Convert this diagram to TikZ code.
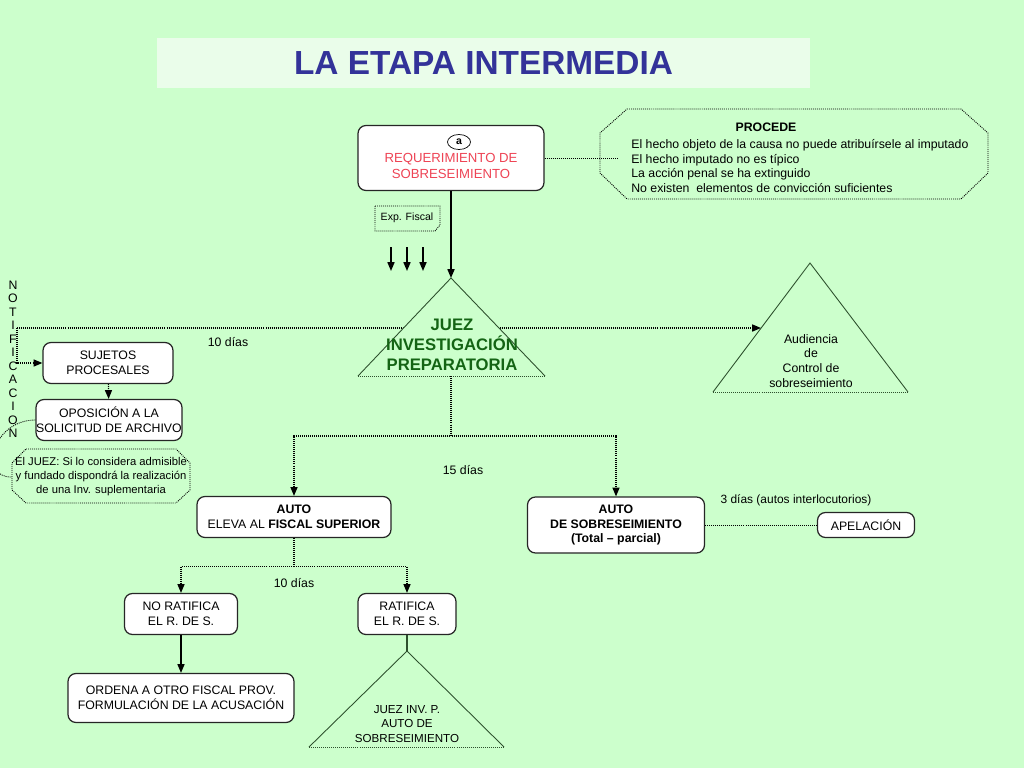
\documentclass[tikz,border=0pt]{standalone}
\usepackage{fontspec}
\setmainfont{Liberation Sans}
\usepackage{tikz}
\usetikzlibrary{arrows.meta,shapes.geometric}

\definecolor{bggreen}{RGB}{204,255,204}
\definecolor{titlebg}{RGB}{234,253,234}
\definecolor{titleblue}{RGB}{51,51,153}
\definecolor{reqred}{RGB}{238,68,85}
\definecolor{juezgreen}{RGB}{20,100,20}
\definecolor{triline}{RGB}{45,80,45}

\begin{document}
\begin{tikzpicture}[
    x=0.02cm, y=-0.02cm,
    >={Triangle[length=5pt,width=4pt]},
    box/.style={draw=black!85, line width=0.7pt, rounded corners=4.5pt, fill=white, align=center, inner sep=0pt},
    dotline/.style={dash pattern=on 0.55pt off 0.6pt, line width=0.7pt},
    tri/.style={draw=triline, line width=0.5pt, fill=bggreen},
    every node/.style={font=\fontsize{7}{8.5}\selectfont}
  ]
  \fill[bggreen] (0,0) rectangle (1024,768);
  \useasboundingbox (0,0) rectangle (1024,768);

  % title
  \node[fill=titlebg, minimum width=13.06cm, minimum height=1cm, text=titleblue,
        font=\bfseries\fontsize{19}{22}\selectfont] (title) at (483.5,63) {LA ETAPA INTERMEDIA};

  % requerimiento
  \node[box, minimum width=3.72cm, minimum height=1.3cm] (req) at (451,158) {};
  \node[draw, ellipse, fill=white, inner sep=0pt, minimum width=0.46cm, minimum height=0.3cm,
        font=\bfseries\fontsize{6}{6}\selectfont] (a) at (459,142) {a};
  \node[text=reqred, align=center, font=\fontsize{7.5}{9}\selectfont] (reqtxt) at (451,166) {REQUERIMIENTO DE\\SOBRESEIMIENTO};

  % procede
  \draw[dotline, line width=0.5pt] (627,109) -- (961,109) -- (988,133) -- (988,173) -- (961,199)
        -- (627,199) -- (600,173) -- (600,133) -- cycle;
  \node[font=\bfseries\fontsize{7}{8.5}\selectfont] (prochead) at (766,127) {PROCEDE};
  \node[anchor=west, align=left, inner sep=0pt] (proc) at (631,166) {El hecho objeto de la causa no puede atribuírsele al imputado\\
    El hecho imputado no es típico\\La acción penal se ha extinguido\\No existen\ \ elementos de convicción suficientes};
  \coordinate (procin) at (618,158);
  \draw[dotline, line width=0.5pt] (req.east) -- (procin);

  % exp. fiscal
  \draw[dotline, line width=0.5pt] (375,206) -- (440,206) -- (440,225) -- (435,231) -- (375,231) -- cycle;
  \node[font=\fontsize{6}{7}\selectfont] (exp) at (407,218) {Exp. Fiscal};
  \foreach \x [count=\i] in {391,407,423} {
    \coordinate (s\i) at (\x,247);
    \coordinate (e\i) at (\x,271);
    \draw[->, line width=0.8pt] (s\i) -- (e\i);
  }

  % notificacion
  \foreach \l [count=\i] in {N,O,T,I,F,I,C,A,C,I,O,N}
    \node[inner sep=0pt] (n\i) at (13,{285+13.5*(\i-1)}) {\l};
  \coordinate (notif) at (17,328);
  \coordinate (audin) at (761,328);
  \draw[dotline, ->] (notif) -- (audin);

  % juez investigacion preparatoria
  \coordinate (jtop) at (451,278);
  \coordinate (jl) at (358,376);
  \coordinate (jr) at (545,376);
  \coordinate (jb) at (451,376);
  \fill[bggreen] (jl) -- (jtop) -- (jr) -- cycle;
  \draw[tri] (jl) -- (jtop) -- (jr);
  \draw[tri, dotline, line width=0.5pt] (jl) -- (jr);
  \node[text=juezgreen, align=center, font=\bfseries\fontsize{9.5}{11.5}\selectfont] (juez) at (452,345) {JUEZ\\INVESTIGACIÓN\\PREPARATORIA};
  \draw[->, line width=0.8pt] (req.south) -- (jtop);

  % audiencia
  \coordinate (atop) at (810,263);
  \coordinate (al) at (713,392);
  \coordinate (ar) at (908,392);
  \draw[tri] (al) -- (atop) -- (ar);
  \draw[tri, dotline, line width=0.5pt] (al) -- (ar);
  \node[align=center] (aud) at (811,361) {Audiencia\\de\\Control de\\sobreseimiento};

  % sujetos procesales
  \node[box, minimum width=2.6cm, minimum height=0.82cm] (suj) at (108,363) {SUJETOS\\PROCESALES};
  \node[box, minimum width=2.92cm, minimum height=0.82cm] (opo) at (109,420) {OPOSICIÓN A LA\\SOLICITUD DE ARCHIVO};
  \draw[dotline, ->] (notif) |- (suj.west);
  \draw[dotline, ->] (suj) -- (opo);
  \node (dias1) at (228,342) {10 días};

  % el juez
  \draw[dotline, line width=0.5pt] (26,449) -- (176,449) -- (190,463) -- (190,490) -- (176,503)
        -- (26,503) -- (12,490) -- (12,463) -- cycle;
  \node[align=center, font=\fontsize{6.4}{8}\selectfont] (ejtxt) at (101,477) {El JUEZ: Si lo considera admisible\\
    y fundado dispondrá la realización\\de una Inv. suplementaria};
  \coordinate (ejw) at (12,477);
  \draw[dotline, line width=0.5pt] (opo.west) .. controls (-8,420) and (-22,478) .. (ejw);

  % autos
  \node[box, minimum width=3.88cm, minimum height=0.82cm] (elev) at (294,517) {\textbf{AUTO}\\ELEVA AL \textbf{FISCAL SUPERIOR}};
  \node[box, minimum width=3.54cm, minimum height=1.12cm, font=\bfseries\fontsize{7}{8.3}\selectfont] (sob) at (616,525) {AUTO\\DE SOBRESEIMIENTO\\(Total -- parcial)};
  \draw[dotline, ->] (jb) -- ++(0,60) -| (elev.north);
  \draw[dotline, ->] (jb) -- ++(0,60) -| (sob.north);
  \node (dias2) at (463,470) {15 días};

  % apelacion
  \node[box, minimum width=1.94cm, minimum height=0.5cm] (apel) at (866,525) {APELACIÓN};
  \draw[dotline, line width=0.5pt] (sob.east) -- (apel.west);
  \node[font=\fontsize{6.8}{8}\selectfont] (dias3) at (796,500) {3 días (autos interlocutorios)};

  % ratifica / no ratifica
  \node[box, minimum width=2.26cm, minimum height=0.82cm] (nor) at (181,614) {NO RATIFICA\\EL R. DE S.};
  \node[box, minimum width=1.96cm, minimum height=0.82cm] (rat) at (407,614) {RATIFICA\\EL R. DE S.};
  \draw[dotline, ->] (elev.south) -- ++(0,28) -| (nor.north);
  \draw[dotline, ->] (elev.south) -- ++(0,28) -| (rat.north);
  \node (dias4) at (294,583) {10 días};

  \node[box, minimum width=4.52cm, minimum height=0.98cm] (ord) at (181,698) {ORDENA A OTRO FISCAL PROV.\\FORMULACIÓN DE LA ACUSACIÓN};
  \draw[->, line width=0.8pt] (nor) -- (ord);

  % juez inv. p.
  \coordinate (ptop) at (407,651);
  \coordinate (pl) at (309,747);
  \coordinate (pr) at (504,747);
  \draw[tri] (pl) -- (ptop) -- (pr);
  \draw[tri, dotline, line width=0.5pt] (pl) -- (pr);
  \draw[line width=0.6pt, draw=triline] (rat.south) -- (ptop);
  \node[align=center, font=\fontsize{6.6}{8}\selectfont] (jip) at (407,724) {JUEZ INV. P.\\AUTO DE\\SOBRESEIMIENTO};
\end{tikzpicture}
\end{document}
